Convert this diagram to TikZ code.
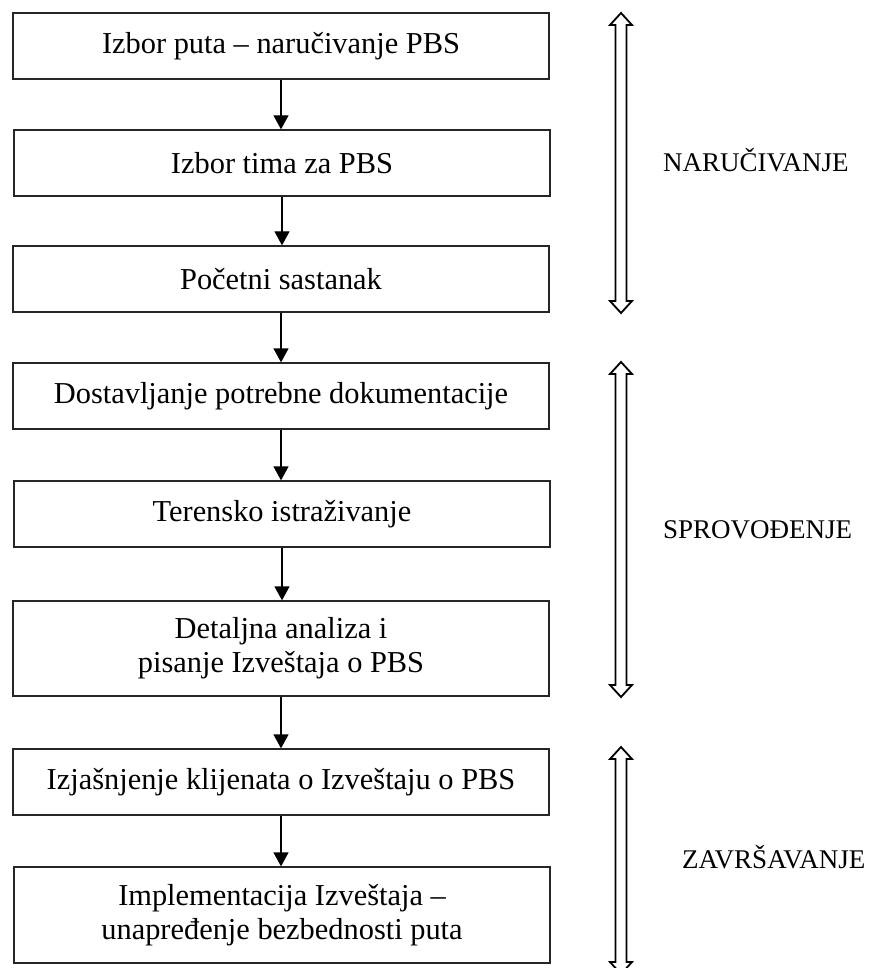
\documentclass[tikz,border=0pt]{standalone}
\usepackage{fontspec}
\setmainfont{Liberation Serif}
\usetikzlibrary{arrows.meta,calc}
\begin{document}
\begin{tikzpicture}[x=1pt,y=-1pt,
  stage/.style={draw=black!85, line width=1.3pt, fill=white, minimum width=536pt,
    align=center, inner sep=0pt, font=\fontsize{30.4}{34}\selectfont},
  flow/.style={-{Triangle[width=15pt,length=14pt]}, line width=1.3pt},
  phase/.style={anchor=west, inner sep=0pt, font=\fontsize{27}{30}\selectfont},
  phasebar/.style={draw=black, line width=1.8pt, fill=white, line join=miter},
]
\useasboundingbox (0,0) rectangle (869,968);

% process steps
\node[stage, minimum height=66pt] (s1) at (281,46)    {Izbor puta – naručivanje PBS};
\node[stage, minimum height=66pt] (s2) at (282,163)   {Izbor tima za PBS};
\node[stage, minimum height=66pt] (s3) at (281,279)   {Početni sastanak};
\node[stage, minimum height=66pt] (s4) at (281,396)   {Dostavljanje potrebne dokumentacije};
\node[stage, minimum height=66pt] (s5) at (282,514)   {Terensko istraživanje};
\node[stage, minimum height=95pt] (s6) at (281,648.5) {Detaljna analiza i\\pisanje Izveštaja o PBS};
\node[stage, minimum height=66pt] (s7) at (281,782)   {Izjašnjenje klijenata o Izveštaju o PBS};
\node[stage, minimum height=96pt] (s8) at (282,915)   {Implementacija Izveštaja –\\unapređenje bezbednosti puta};

% flow between steps
\foreach \a/\b in {s1/s2,s2/s3,s3/s4,s4/s5,s5/s6,s6/s7,s7/s8}
  \draw[flow] (\a.south) -- (\a.south |- \b.north);

% phase spans
\newcommand\phasespan[2]{%
  \draw[phasebar] (#1) -- ($(#1)+(11,12)$) -- ($(#1)+(5.5,12)$)
    -- ($(#2)+(5.5,-12)$) -- ($(#2)+(11,-12)$) -- (#2)
    -- ($(#2)+(-11,-12)$) -- ($(#2)+(-5.5,-12)$)
    -- ($(#1)+(-5.5,12)$) -- ($(#1)+(-11,12)$) -- cycle;}

\coordinate (p1t) at (621,13);  \coordinate (p1b) at (621,313);
\coordinate (p2t) at (621,362); \coordinate (p2b) at (621,697);
\coordinate (p3t) at (621,747); \coordinate (p3b) at (621,974);
\phasespan{p1t}{p1b}
\phasespan{p2t}{p2b}
\phasespan{p3t}{p3b}

\node[phase] (l1) at (663,160) {NARUČIVANJE};
\node[phase] (l2) at (663,530) {SPROVOĐENJE};
\node[phase] (l3) at (682,857) {ZAVRŠAVANJE};
\end{tikzpicture}
\end{document}
